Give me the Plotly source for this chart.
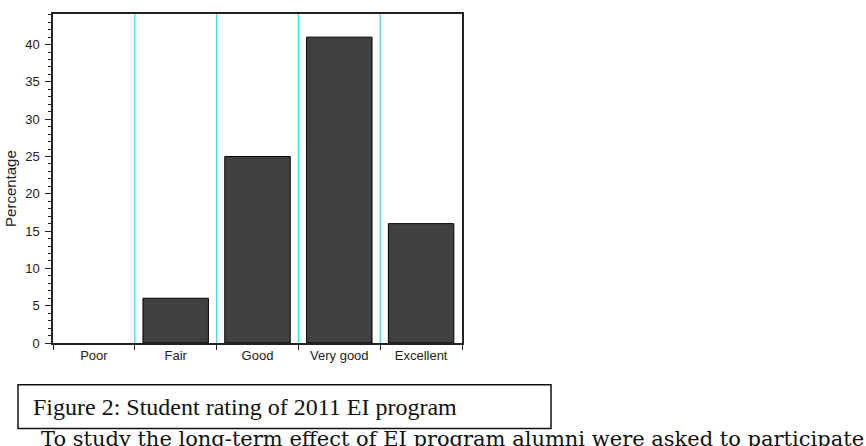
import plotly.graph_objects as go

categories = ["Poor", "Fair", "Good", "Very good", "Excellent"]
percentages = [0, 6, 25, 41, 16]
y_ticks = [0, 5, 10, 15, 20, 25, 30, 35, 40]

W, H = 866, 446
L, R, T, B = 53, 462, 12, 343

def px(x):
    return (x - L) / (R - L)

def py(y):
    return (B - y) / (B - T)

xs = list(range(len(categories)))

fig = go.Figure()
fig.add_trace(go.Bar(
    x=xs, y=percentages, width=0.8,
    marker=dict(color="#404040",
                line=dict(color="#000000", width=[1 if v > 0 else 0 for v in percentages])),
    showlegend=False,
))

# cyan category dividers
for i in range(len(categories) - 1):
    fig.add_shape(type="line", xref="x", yref="paper", x0=i + 0.5, x1=i + 0.5,
                  y0=0, y1=1, line=dict(color="#3EE0E6", width=1.3), layer="below")

fig.update_layout(
    width=W, height=H,
    margin=dict(l=L, r=W - R, t=T, b=H - B, pad=0),
    paper_bgcolor="white", plot_bgcolor="white",
    font=dict(family="Liberation Sans, Arial, sans-serif", size=13, color="#222"),
)
fig.update_xaxes(
    range=[-0.5, len(categories) - 0.5],
    tickmode="array", tickvals=xs, ticktext=categories,
    ticks="", showgrid=False, zeroline=False,
    showline=True, linecolor="#222", linewidth=1.5, mirror=True,
    tickfont=dict(size=13),
    minor=dict(tickmode="linear", tick0=-0.5, dtick=1, ticks="outside",
               ticklen=5, tickcolor="#222", tickwidth=1, showgrid=False),
)
fig.update_yaxes(
    range=[0, 44.1],
    tickmode="array", tickvals=y_ticks,
    ticks="outside", ticklen=6, tickwidth=1.2, tickcolor="#222",
    ticklabelstandoff=3,
    showgrid=False, zeroline=False,
    showline=True, linecolor="#222", linewidth=1.5, mirror=True,
    tickfont=dict(size=13),
    minor=dict(tickmode="linear", tick0=0, dtick=1, ticks="outside",
               ticklen=3, tickcolor="#222", tickwidth=1),
)

# y-axis title
fig.add_annotation(xref="paper", yref="paper", x=px(11), y=py(188),
                   xanchor="center", yanchor="middle", showarrow=False, textangle=-90,
                   text="Percentage", font=dict(size=15, color="#222"))

# caption box
fig.add_shape(type="rect", xref="paper", yref="paper",
              x0=px(18), x1=px(551), y0=py(429), y1=py(385),
              line=dict(color="#111", width=1.5), fillcolor="white")
fig.add_annotation(xref="paper", yref="paper", x=px(31), y=py(407),
                   xanchor="left", yanchor="middle", showarrow=False,
                   text="Figure 2: Student rating of 2011 EI program",
                   font=dict(family="Liberation Serif, Times New Roman, serif", size=24, color="#111"))
fig.add_annotation(xref="paper", yref="paper", x=px(39), y=py(425),
                   xanchor="left", yanchor="top", showarrow=False,
                   text="To study the long-term effect of EI program alumni were asked to participate",
                   font=dict(family="DejaVu Serif, serif", size=21, color="#111"))

fig.write_html("out.html")
